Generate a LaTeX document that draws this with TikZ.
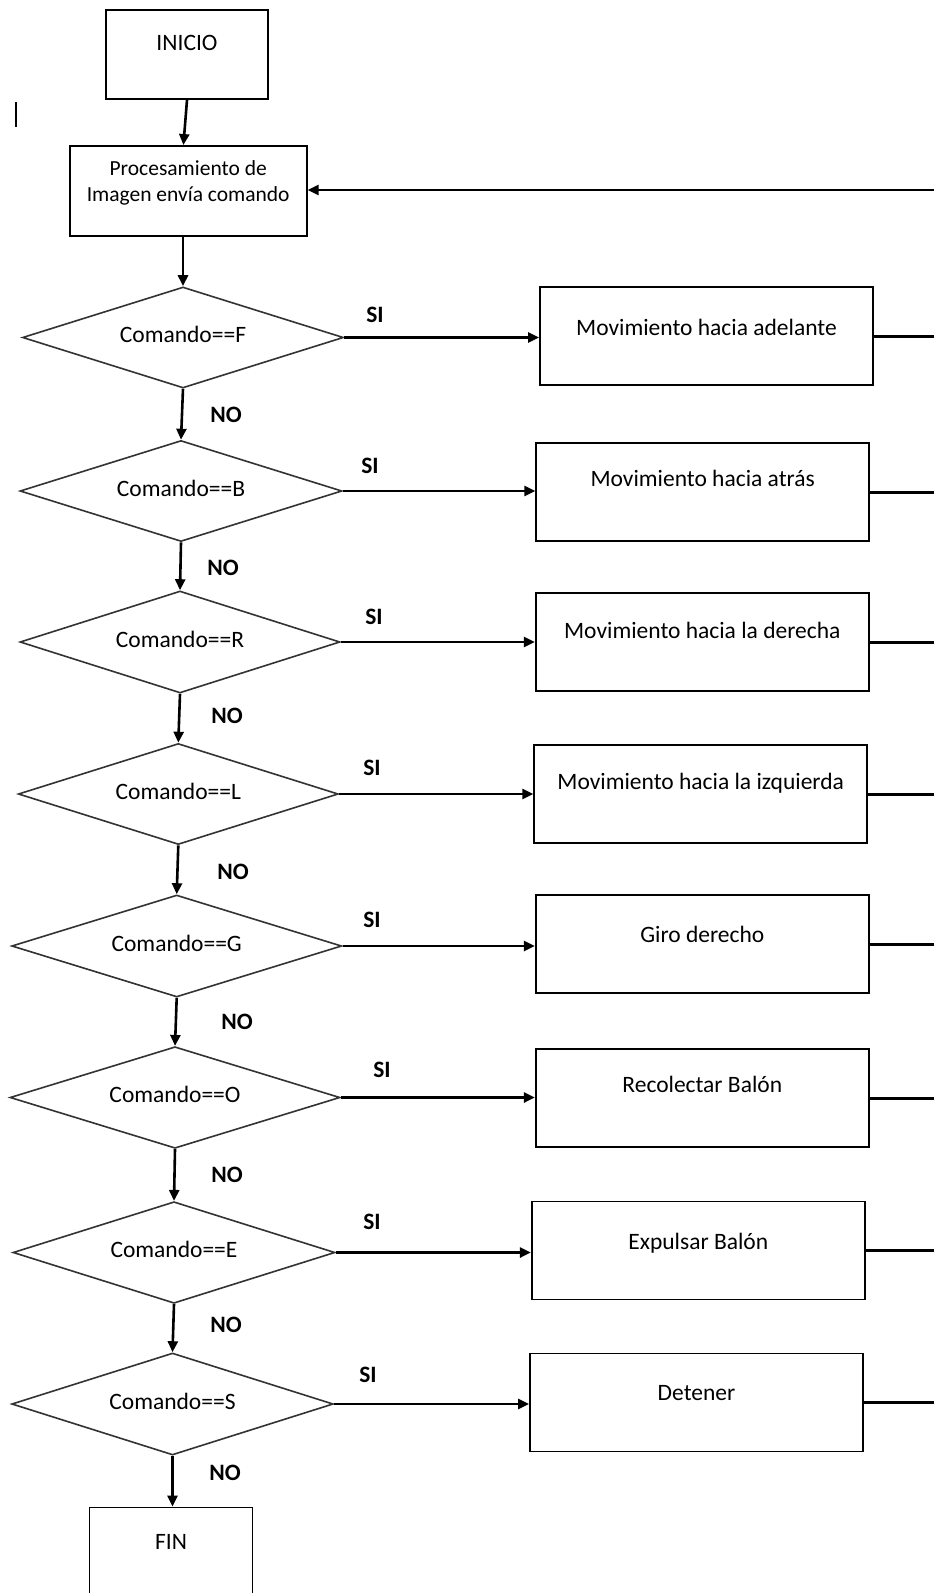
\documentclass[tikz,border=0pt]{standalone}
\usepackage{fontspec}
\setmainfont{Carlito}
\usetikzlibrary{shapes.geometric,arrows.meta}
\newcommand{\rtxt}[2]{\raisebox{#1}[0pt][0pt]{#2}}
\begin{document}
\begin{tikzpicture}[x=1pt,y=-1pt,
  font=\fontsize{23.5}{28}\selectfont,
  procbox/.style={draw=black, line width=1.8pt, rectangle, minimum width=333pt, minimum height=98pt, inner sep=0pt},
  termbox/.style={procbox, minimum width=162pt, minimum height=89pt},
  decision/.style={draw=black!80, line width=1.6pt, diamond, shape aspect=3.2, inner sep=0pt},
  arr/.style={line width=2.6pt, -{Triangle[length=11pt,width=10pt]}},
  link/.style={line width=2.6pt},
  lbl/.style={font=\fontsize{23.5}{28}\selectfont\bfseries, inner sep=0pt}
]
\useasboundingbox (0,0) rectangle (934,1593);
\fill[white] (0,0) rectangle (934,1593);

% stray mark
\draw[line width=1.3pt] (16,102) -- (16,127);

% terminals and process
\node[termbox] (ini) at (187,54.7) {\rtxt{4pt}{INICIO}};
\node[procbox, minimum width=237pt, minimum height=89.7pt, font=\fontsize{21.5}{26.7}\selectfont] (proc) at (188.2,190.8)
  {\rtxt{-10.9pt}{\parbox[b]{230pt}{\centering Procesamiento de\\Imagen envía comando}}};

% decisions
\node[decision, minimum width=321pt, minimum height=101pt] (dF) at (183,337.5) {\rtxt{-5pt}{Comando==F}};
\node[decision, minimum width=322pt, minimum height=101pt] (dB) at (181,491) {\rtxt{-5pt}{Comando==B}};
\node[decision, minimum width=320pt, minimum height=102pt] (dR) at (180,642) {\rtxt{-5pt}{Comando==R}};
\node[decision, minimum width=320pt, minimum height=101pt] (dL) at (178.3,794) {\rtxt{-5pt}{Comando==L}};
\node[decision, minimum width=330pt, minimum height=102pt] (dG) at (176.7,946) {\rtxt{-5pt}{Comando==G}};
\node[decision, minimum width=330pt, minimum height=101.6pt] (dO) at (175,1097.5) {\rtxt{-5pt}{Comando==O}};
\node[decision, minimum width=322pt, minimum height=101.6pt] (dE) at (174,1252.5) {\rtxt{-5pt}{Comando==E}};
\node[decision, minimum width=321.5pt, minimum height=102pt] (dS) at (172.5,1404) {\rtxt{-5pt}{Comando==S}};

% action boxes
\node[procbox] (bF) at (706.5,336.3) {\rtxt{1.3pt}{Movimiento hacia adelante}};
\node[procbox] (bB) at (702.7,492.2) {\rtxt{5.5pt}{Movimiento hacia atrás}};
\node[procbox] (bR) at (702.3,642.2) {\rtxt{3.9pt}{Movimiento hacia la derecha}};
\node[procbox] (bL) at (700.7,794.2) {\rtxt{4.9pt}{Movimiento hacia la izquierda}};
\node[procbox] (bG) at (702.3,944.2) {\rtxt{2pt}{Giro derecho}};
\node[procbox] (bO) at (702.3,1098.3) {\rtxt{5.6pt}{Recolectar Balón}};
\node[procbox] (bE) at (698.3,1250.5) {\rtxt{1.5pt}{Expulsar Balón}};
\node[procbox] (bS) at (696.5,1402.5) {\rtxt{1.8pt}{Detener}};

\node[termbox, minimum width=163pt] (fin) at (171,1551.9) {\rtxt{2.6pt}{FIN}};

% SI labels
\node[lbl] (siF) at (375,315) {SI};
\node[lbl] (siB) at (370,465.5) {SI};
\node[lbl] (siR) at (374,617) {SI};
\node[lbl] (siL) at (372,768) {SI};
\node[lbl] (siG) at (372,920) {SI};
\node[lbl] (siO) at (382,1070) {SI};
\node[lbl] (siE) at (372,1222) {SI};
\node[lbl] (siS) at (368,1375) {SI};

% NO labels
\node[lbl] (noF) at (226,415) {NO};
\node[lbl] (noB) at (223,568) {NO};
\node[lbl] (noR) at (227,716) {NO};
\node[lbl] (noL) at (233,872) {NO};
\node[lbl] (noG) at (237,1022) {NO};
\node[lbl] (noO) at (227,1175) {NO};
\node[lbl] (noE) at (226,1325) {NO};
\node[lbl] (noS) at (225,1473) {NO};

% main vertical flow
\draw[arr] (ini.south) -- (proc.north -| 183.4,0);
\draw[arr] (proc.south -| dF.north) -- (dF.north);
\draw[arr] (dF.south) -- (dB.north);
\draw[arr] (dB.south) -- (dR.north);
\draw[arr] (dR.south) -- (dL.north);
\draw[arr] (dL.south) -- (dG.north);
\draw[arr] (dG.south) -- (dO.north);
\draw[arr] (dO.south) -- (dE.north);
\draw[arr] (dE.south) -- (dS.north);
\draw[arr] (dS.south) -- (fin.north -| dS.south);

% SI branches
\foreach \k in {F,B,R,L,G,O,E,S}{
  \draw[arr] (d\k.east) -- (d\k.east -| b\k.west);
}

% return lines to the right edge
\coordinate (rail) at (934,190);
\foreach \k in {F,B,R,L,G,O,E,S}{
  \draw[link] (b\k.east) -- (b\k.east -| rail);
}
\draw[arr] (rail) -- (rail -| proc.east);
\end{tikzpicture}
\end{document}
